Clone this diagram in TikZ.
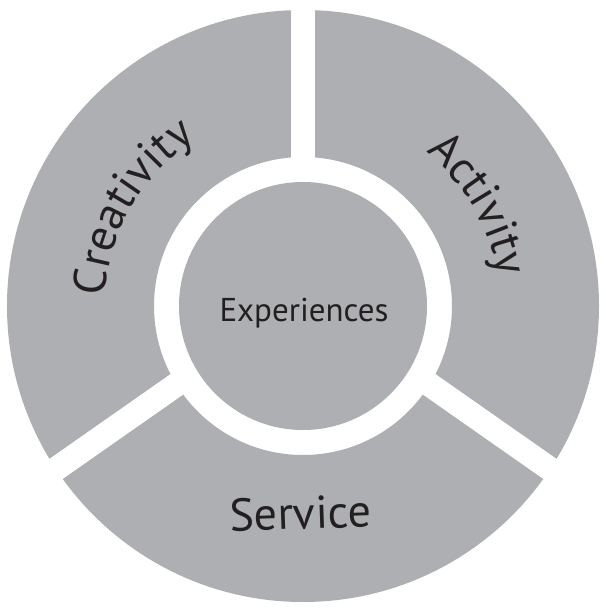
\documentclass[tikz,border=0pt]{standalone}
\usepackage{fontspec}
\setsansfont{PT Sans}
\usepackage{tikz}
\usetikzlibrary{positioning, decorations.text}
\definecolor{casGray}{RGB}{173,175,178}
\definecolor{casInk}{RGB}{35,31,32}

\begin{document}
\begin{tikzpicture}[
        x=1pt, y=1pt,
        ring/.style={fill=casGray, draw=none, even odd rule},
        gap/.style={draw=white, line width=24pt},
        hub/.style={circle, fill=casGray, draw=none, minimum size=248pt, inner sep=0pt},
        hubtext/.style={font=\sffamily\fontsize{33}{36}\selectfont, text=casInk, inner sep=0pt},
        strandtext/.style={font=\sffamily\fontsize{46}{50}\selectfont, text=casInk, inner sep=0pt},
        strand/.style={decorate, decoration={text along path, text align=center,
            text color=casInk, text={|\sffamily\fontsize{46}{50}\selectfont|#1}}}
    ]

    \useasboundingbox[fill=white] (-303pt,-303pt) rectangle (302pt,306pt);

    % --- OUTER RING ---
    \path[ring] (0,0) circle[radius=296pt] (0,0) circle[radius=149pt];

    % gaps between the three strands
    \coordinate (apex) at (0,10pt);
    \draw[gap] (apex) -- ++(90:320pt);
    \draw[gap] (apex) -- ++(215:340pt);
    \draw[gap] (apex) -- ++(-35:340pt);

    % --- CENTRE ---
    \node[hub] (hub) at (0,0) {};
    \node[hubtext, anchor=base] (experiences) at (1pt,-16pt) {Experiences};

    % --- STRAND LABELS ---
    \path[strand=Creativity] (210:198pt) arc[start angle=210, end angle=90, radius=198pt];
    \path[strand=Activity] (90:197pt) arc[start angle=90, end angle=-30, radius=197pt];
    \node[strandtext, anchor=base, rotate=2] (service) at (-2pt,-223pt) {Service};

\end{tikzpicture}
\end{document}
